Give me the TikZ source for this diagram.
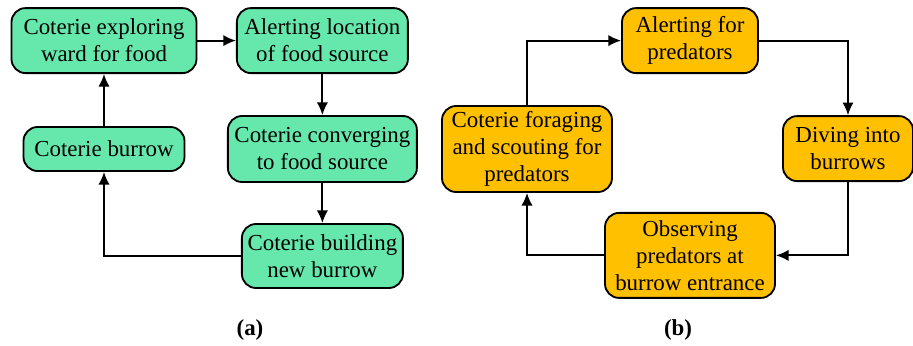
\documentclass[tikz,border=0pt]{standalone}
\usepackage{fontspec}
\setmainfont{Liberation Serif}
\usepackage{xcolor}
\usetikzlibrary{arrows.meta}

\definecolor{boxgreen}{RGB}{102,232,172}
\definecolor{boxorange}{RGB}{255,192,0}

\begin{document}
\begin{tikzpicture}[
        stage/.style={draw, line width=1.3pt, rounded corners=10pt, align=center,
            inner sep=0pt, font=\fontsize{16.3}{19.2}\selectfont},
        greenstage/.style={stage, fill=boxgreen},
        orangestage/.style={stage, fill=boxorange},
        flow/.style={line width=1.3pt, -{Latex[length=9pt,width=8pt]}}
    ]
    \useasboundingbox (0, 0) rectangle (22.825, 8.625);

    % (a) food search
    \node[greenstage, minimum width=4.625cm, minimum height=1.625cm] (explore) at (2.6, 7.61) {Coterie exploring\\ward for food};
    \node[greenstage, minimum width=4.275cm, minimum height=1.625cm] (alert) at (8.06, 7.61) {Alerting location\\of food source};
    \node[greenstage, minimum width=4.725cm, minimum height=1.65cm] (converge) at (8.06, 4.9) {Coterie converging\\to food source};
    \node[greenstage, minimum width=4.025cm, minimum height=1.1cm] (burrow) at (2.6, 4.9) {Coterie burrow};
    \node[greenstage, minimum width=4.025cm, minimum height=1.6cm] (build) at (8.06, 2.225) {Coterie building\\new burrow};

    \draw[flow] (explore) -- (alert);
    \draw[flow] (alert) -- (converge);
    \draw[flow] (converge) -- (build);
    \draw[flow] (build.west) -| (burrow.south);
    \draw[flow] (burrow) -- (explore);

    \node[font=\fontsize{16.3}{19.2}\selectfont\bfseries] (labela) at (6.25, 0.375) {(a)};

    % (b) predator watch
    \node[orangestage, minimum width=3.4cm, minimum height=1.625cm] (alertpred) at (17.25, 7.61) {Alerting for\\predators};
    \node[orangestage, minimum width=3.25cm, minimum height=1.625cm] (dive) at (21.2, 4.91) {Diving into\\burrows};
    \node[orangestage, minimum width=4.25cm, minimum height=2.125cm] (observe) at (17.25, 2.24) {Observing\\predators at\\burrow entrance};
    \node[orangestage, minimum width=4.25cm, minimum height=2.15cm] (forage) at (13.175, 4.9) {Coterie foraging\\and scouting for\\predators};

    \draw[flow] (forage.north) |- (alertpred.west);
    \draw[flow] (alertpred.east) -| (dive.north);
    \draw[flow] (dive.south) |- (observe.east);
    \draw[flow] (observe.west) -| (forage.south);

    \node[font=\fontsize{16.3}{19.2}\selectfont\bfseries] (labelb) at (16.95, 0.375) {(b)};
\end{tikzpicture}
\end{document}
